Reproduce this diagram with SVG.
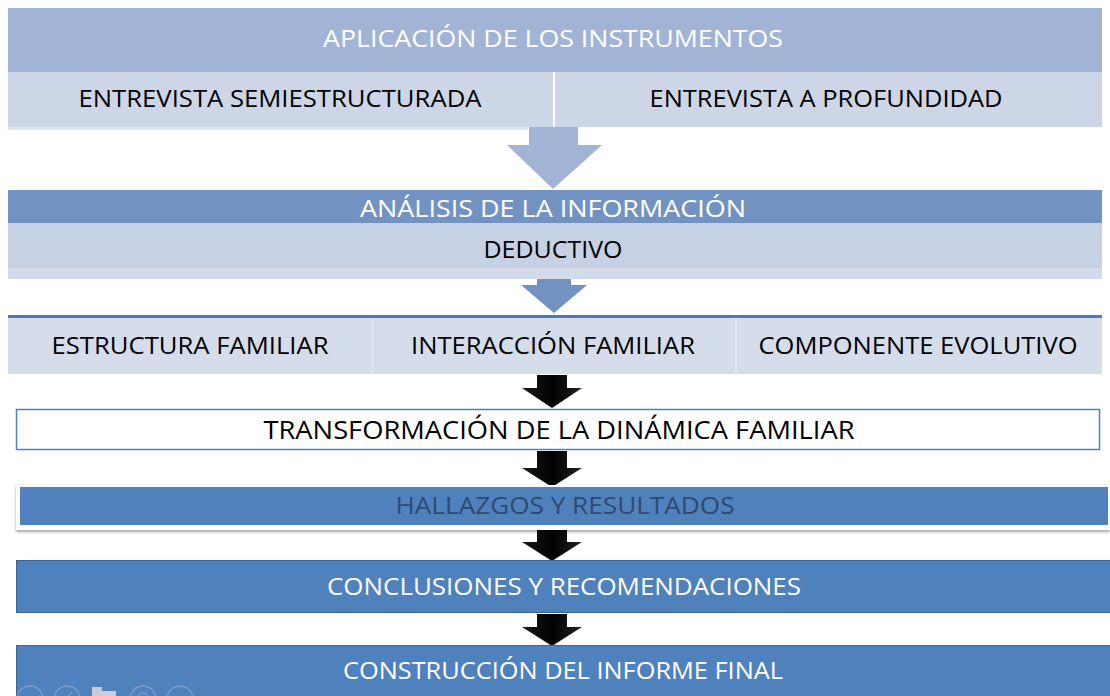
<svg xmlns="http://www.w3.org/2000/svg" width="1110" height="696" viewBox="0 0 1110 696">
<defs>
<style>
text{font-family:"Open Sans","Liberation Sans",sans-serif;font-size:23px;text-anchor:middle;dominant-baseline:central}
.w{fill:#ffffff}
.k{fill:#000000}
.d{fill:#2f4a6e}
.blk{fill:url(#gk)}
.ic{fill:none;stroke:#7c9cc8;stroke-width:1.5}
</style>
<linearGradient id="gk" x1="0" y1="0" x2="1" y2="0">
<stop offset="0" stop-color="#1a1a1a"/>
<stop offset="0.5" stop-color="#000000"/>
<stop offset="1" stop-color="#222222"/>
</linearGradient>
<filter id="sh" x="-5%" y="-20%" width="110%" height="160%">
<feDropShadow dx="0" dy="2" stdDeviation="1.5" flood-color="#000" flood-opacity="0.35"/>
</filter>
</defs>
<rect width="1110" height="696" fill="#ffffff"/>

<g id="connectors">
<polygon points="529,127 578,127 578,145 602,145 553,189 507,145 529,145" fill="#a2b4d6"/>
<polygon points="537,268 571,268 571,285 587,285 554,313 521,285 537,285" fill="#7293c2"/>
<polygon class="blk" points="537,375 567,375 567,388 582,388 552,408 522,388 537,388"/>
<polygon class="blk" points="537,451 567,451 567,468 582,468 552,487 522,468 537,468"/>
<polygon class="blk" points="537,528 567,528 567,542 582,542 552,561 522,542 537,542"/>
<polygon class="blk" points="537,614 567,614 567,627 582,627 552,646 522,627 537,627"/>
</g>

<g id="n1">
<rect x="8" y="8" width="1094" height="64" fill="#a2b4d6"/>
<text class="w" x="553" y="38" textLength="460" lengthAdjust="spacingAndGlyphs">APLICACIÓN DE LOS INSTRUMENTOS</text>
</g>
<g id="n1a">
<rect x="8" y="127" width="520" height="3" fill="#dde3ef"/>
<rect x="8" y="72" width="545" height="55" fill="#cdd6e7"/>
<text class="k" x="280" y="98" textLength="403" lengthAdjust="spacingAndGlyphs">ENTREVISTA SEMIESTRUCTURADA</text>
</g>
<g id="n1b">
<rect x="555" y="72" width="547" height="55" fill="#cdd6e7"/>
<text class="k" x="826" y="98" textLength="353" lengthAdjust="spacingAndGlyphs">ENTREVISTA A PROFUNDIDAD</text>
</g>

<g id="n2">
<rect x="8" y="190" width="1094" height="33" fill="#7293c2"/>
<text class="w" x="553" y="208" textLength="386" lengthAdjust="spacingAndGlyphs">ANÁLISIS DE LA INFORMACIÓN</text>
</g>
<g id="n2a">
<rect x="8" y="223" width="1094" height="56" fill="#d3dbea"/>
<rect x="8" y="223" width="1094" height="45" fill="#c6d1e4"/>
<text class="k" x="553" y="249" textLength="139" lengthAdjust="spacingAndGlyphs">DEDUCTIVO</text>
</g>

<g id="n3">
<rect x="8" y="315" width="1094" height="3" fill="#4f78b5"/>
<rect x="8" y="318" width="1094" height="56" fill="#d5dcea"/>
<line x1="372.5" y1="318" x2="372.5" y2="374" stroke="#e3e8f1" stroke-width="1.5"/>
<line x1="736" y1="318" x2="736" y2="374" stroke="#e3e8f1" stroke-width="1.5"/>
<text class="k" x="190" y="345" textLength="277" lengthAdjust="spacingAndGlyphs">ESTRUCTURA FAMILIAR</text>
<text class="k" x="553" y="345" textLength="284" lengthAdjust="spacingAndGlyphs">INTERACCIÓN FAMILIAR</text>
<text class="k" x="918" y="345" textLength="319" lengthAdjust="spacingAndGlyphs">COMPONENTE EVOLUTIVO</text>
</g>

<g id="n4">
<rect x="16.5" y="409.5" width="1083" height="40" fill="#ffffff" stroke="#4f81bd" stroke-width="1.5"/>
<text class="k" x="559" y="429" textLength="591" lengthAdjust="spacingAndGlyphs" style="font-size:25px">TRANSFORMACIÓN DE LA DINÁMICA FAMILIAR</text>
</g>

<g id="n5">
<rect x="16" y="485" width="1094" height="45" fill="#ffffff" filter="url(#sh)"/>
<rect x="20" y="487" width="1088" height="38" fill="#4f81bd"/>
<text class="d" x="565" y="505" textLength="339" lengthAdjust="spacingAndGlyphs">HALLAZGOS Y RESULTADOS</text>
</g>

<g id="n6">
<rect x="16.5" y="560.5" width="1094" height="52" fill="#4f81bd" stroke="#3a6396" stroke-width="1"/>
<text class="w" x="564" y="586" textLength="474" lengthAdjust="spacingAndGlyphs">CONCLUSIONES Y RECOMENDACIONES</text>
</g>

<g id="n7">
<rect x="16.5" y="645.5" width="1094" height="60" fill="#4f81bd" stroke="#3a6396" stroke-width="1"/>
<text class="w" x="563" y="670" textLength="440" lengthAdjust="spacingAndGlyphs">CONSTRUCCIÓN DEL INFORME FINAL</text>
</g>

<g id="overlay-icons">
<circle class="ic" cx="30" cy="699" r="13"/>
<circle class="ic" cx="67" cy="699" r="13"/>
<line class="ic" x1="62" y1="703" x2="72" y2="692"/>
<rect x="92" y="687" width="10" height="9" fill="#c9ced6"/>
<rect x="101" y="691" width="15" height="5" fill="#c9ced6"/>
<circle class="ic" cx="143" cy="699" r="13"/>
<circle class="ic" cx="143" cy="698" r="5"/>
<circle class="ic" cx="180" cy="699" r="13"/>
</g>
</svg>
